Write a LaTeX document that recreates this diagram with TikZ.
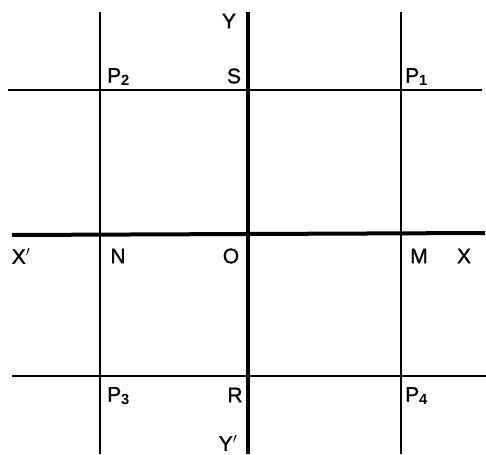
\documentclass[tikz,border=0pt]{standalone}
\usepackage{fontspec}
\setmainfont{Liberation Sans}
\newfontfamily\lblfont[FakeBold=1.2]{Liberation Sans}
\begin{document}
\begin{tikzpicture}[x=1pt,y=-1pt,
  thinline/.style={line width=2.3pt},
  axisline/.style={line width=4pt},
  lbl/.style={inner sep=0pt,font=\lblfont\fontsize{21}{21}\selectfont}]
\useasboundingbox (0,0) rectangle (486,454);
% grid lines
\coordinate (v1t) at (100,12); \coordinate (v1b) at (100,454);
\coordinate (v3t) at (401,12); \coordinate (v3b) at (401,454);
\coordinate (yt) at (248,12); \coordinate (yb) at (248,454);
\coordinate (h1l) at (8,90); \coordinate (h1r) at (482,90);
\coordinate (h3l) at (12,376); \coordinate (h3r) at (486,376);
\coordinate (xl) at (12,235); \coordinate (xr) at (485,233);
\draw[thinline] (v1t) -- (v1b);
\draw[thinline] (v3t) -- (v3b);
\draw[thinline] (h1l) -- (h1r);
\draw[thinline] (h3l) -- (h3r);
\draw[axisline] (yt) -- (yb);
\draw[axisline] (xl) -- (xr);
% labels
\node[lbl] (Y) at (229,21) {Y};
\node[lbl] (S) at (234,76) {S};
\node[lbl,anchor=west] (P2) at (107,77) {P$_{\mathbf{2}}$};
\node[lbl,anchor=west] (P1) at (405,77) {P$_{\mathbf{1}}$};
\node[lbl] (Xp) at (21,256) {X$'$};
\node[lbl] (N) at (118,256) {N};
\node[lbl] (O) at (231,256) {O};
\node[lbl] (M) at (419,256) {M};
\node[lbl] (X) at (464,256) {X};
\node[lbl,anchor=west] (P3) at (107,396) {P$_{\mathbf{3}}$};
\node[lbl] (R) at (235,395) {R};
\node[lbl,anchor=west] (P4) at (405,396) {P$_{\mathbf{4}}$};
\node[lbl] (Yp) at (228,443) {Y$'$};
\end{tikzpicture}
\end{document}
